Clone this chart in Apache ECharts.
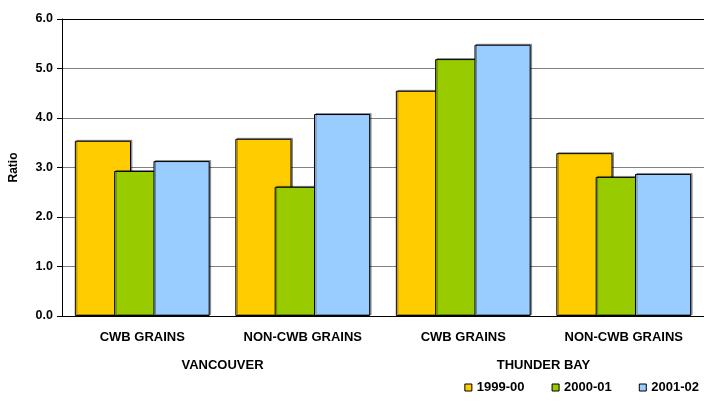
<!DOCTYPE html>
<html><head><meta charset="utf-8">
<script src="https://cdn.jsdelivr.net/npm/echarts@6/dist/echarts.min.js"></script>
<style>html,body{margin:0;padding:0;background:#fff}#c{width:704px;height:403px}</style>
</head><body><div id="c"></div>
<script>
const categories = ['CWB GRAINS', 'NON-CWB GRAINS', 'CWB GRAINS', 'NON-CWB GRAINS'];
const groups = ['VANCOUVER', 'THUNDER BAY'];
const seriesNames = ['1999-00', '2000-01', '2001-02'];
const s1999 = [3.54, 3.58, 4.55, 3.29];
const s2000 = [2.93, 2.61, 5.19, 2.81];
const s2001 = [3.13, 4.08, 5.48, 2.87];
const yTicks = [0, 1, 2, 3, 4, 5, 6];
const colors = ['#FFCC00', '#99CC00', '#99CCFF'];

const font = 'Arial, "Liberation Sans", sans-serif';
const chart = echarts.init(document.getElementById('c'), null, {renderer: 'canvas'});
const barStyle = (c) => ({
  color: c, borderColor: '#000', borderWidth: 1,
  shadowColor: 'rgba(0,0,0,0.35)', shadowOffsetX: 1.5, shadowOffsetY: -1, shadowBlur: 0
});
chart.setOption({
  animation: false,
  grid: {left: 62, right: 0, top: 19, bottom: 87},
  legend: {
    right: 5, top: 381, width: 260, itemWidth: 7, itemHeight: 7, itemGap: 27,
    icon: 'rect', padding: 0,
    textStyle: {fontFamily: font, fontWeight: 'bold', fontSize: 13, color: '#000'},
    itemStyle: {borderColor: '#000', borderWidth: 1, shadowBlur: 0, shadowOffsetX: 0, shadowOffsetY: 0},
    data: seriesNames
  },
  xAxis: [{
    type: 'category', data: categories,
    axisLine: {lineStyle: {color: '#000', width: 1}},
    axisTick: {show: false},
    axisLabel: {fontFamily: font, fontWeight: 'bold', fontSize: 13, color: '#000', margin: 15}
  }, {
    type: 'category', data: groups, position: 'bottom', offset: 28,
    axisLine: {show: false}, axisTick: {show: false},
    axisLabel: {fontFamily: font, fontWeight: 'bold', fontSize: 13, color: '#000', margin: 15}
  }],
  yAxis: {
    type: 'value', min: yTicks[0], max: yTicks[yTicks.length - 1], interval: 1,
    name: 'Ratio', nameLocation: 'middle', nameGap: 42, nameRotate: 90,
    nameTextStyle: {fontFamily: font, fontWeight: 'bold', fontSize: 12, color: '#000'},
    axisLine: {show: true, lineStyle: {color: '#000'}},
    axisTick: {show: true, length: 5, lineStyle: {color: '#000'}},
    axisLabel: {fontFamily: font, fontWeight: 'bold', fontSize: 12.5, color: '#000', margin: 9,
      formatter: v => v.toFixed(1)},
    splitLine: {lineStyle: {color: ['#808080', '#808080', '#808080', '#808080', '#808080', '#808080', '#000'], width: 1}}
  },
  series: [
    {name: seriesNames[0], type: 'bar', data: s1999, barGap: '-30%', barCategoryGap: '16%', itemStyle: barStyle(colors[0])},
    {name: seriesNames[1], type: 'bar', data: s2000, itemStyle: barStyle(colors[1])},
    {name: seriesNames[2], type: 'bar', data: s2001, itemStyle: barStyle(colors[2])}
  ]
});
</script></body></html>
